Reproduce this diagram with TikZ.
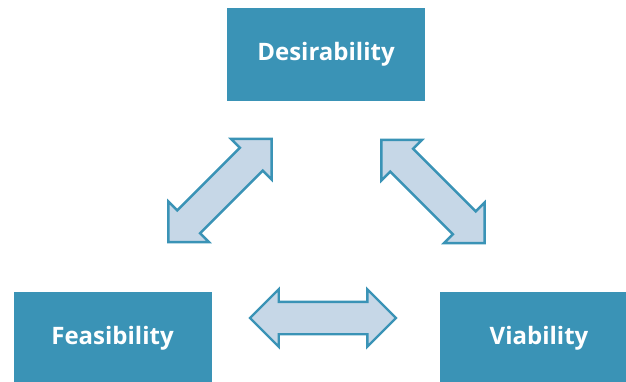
\documentclass[tikz,border=0pt]{standalone}
\usepackage{fontspec}
\setmainfont{Open Sans}
\usetikzlibrary{shapes.arrows}
\definecolor{boxblue}{RGB}{58,147,182}
\definecolor{arrowfill}{RGB}{198,215,231}

\begin{document}
\begin{tikzpicture}[
  x=1pt, y=-1pt,
  pillar/.style={
    rectangle, fill=boxblue, text=white,
    minimum width=198pt, minimum height=93pt,
    font=\fontsize{24}{28}\selectfont\bfseries
  },
  blockarrow/.style={
    double arrow, draw=boxblue, fill=arrowfill, line width=2.4pt,
    minimum height=146pt, minimum width=55pt,
    inner xsep=0pt, inner ysep=15pt,
    double arrow head extend=12.5pt
  }
]
  \clip (0,0) rectangle (626,381);

  \node[pillar] (des) at (326,54.5)   {Desirability};
  \node[pillar] (fea) at (112.5,338.5) {Feasibility};
  \node[pillar] (via) at (539,338.5)   {Viability};

  \node[blockarrow, rotate=45]  (desfea) at (220,190.5) {};
  \node[blockarrow, rotate=-45] (desvia) at (433,191.5) {};
  \node[blockarrow]             (feavia) at (323,318)   {};
\end{tikzpicture}
\end{document}
